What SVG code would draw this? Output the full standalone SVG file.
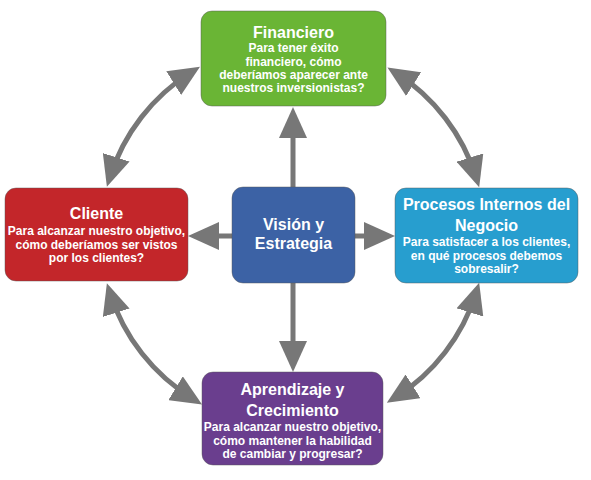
<svg xmlns="http://www.w3.org/2000/svg" width="591" height="480" viewBox="0 0 591 480">
<style>
.box{stroke:#555;stroke-opacity:0.45;stroke-width:1}
.t{font-family:"Liberation Sans",Arial,sans-serif;font-weight:bold;font-size:16px;fill:#fff;text-anchor:middle}
.b{font-family:"Liberation Sans",Arial,sans-serif;font-weight:bold;font-size:12px;fill:#fff;text-anchor:middle}
.c{fill:none;stroke:#777;stroke-width:5}
</style>
<defs>
<marker id="ah" markerUnits="userSpaceOnUse" markerWidth="32" markerHeight="28" refX="21" refY="14" orient="auto-start-reverse" viewBox="0 0 32 28">
<path d="M0,0 L31,14 L0,28 Z" fill="#777"/>
</marker>
</defs>
<rect width="591" height="480" fill="#fff"/>
<g id="connectors">
<path class="c" d="M293,187 L293,117" marker-end="url(#ah)"/>
<path class="c" d="M293,283 L293,362" marker-end="url(#ah)"/>
<path class="c" d="M232,236 L198,236" marker-end="url(#ah)"/>
<path class="c" d="M355,236 L385,236" marker-end="url(#ah)"/>
<path class="c" d="M109.9,177.3 A192,192 0 0 1 191.5,72" marker-start="url(#ah)" marker-end="url(#ah)"/>
<path class="c" d="M395.9,72.9 A192,192 0 0 1 476.2,177.6" marker-start="url(#ah)" marker-end="url(#ah)"/>
<path class="c" d="M476.2,292.4 A192,192 0 0 1 395.3,397.5" marker-start="url(#ah)" marker-end="url(#ah)"/>
<path class="c" d="M193.5,399.2 A192,192 0 0 1 109.9,292.7" marker-start="url(#ah)" marker-end="url(#ah)"/>
</g>
<g id="financiero">
<rect class="box" x="201" y="11" width="185" height="95" rx="11" fill="#6ab535"/>
<text class="t" x="293.5" y="38">Financiero</text>
<text class="b" x="293.5" y="52">Para tener éxito</text>
<text class="b" x="293.5" y="65.5">financiero, cómo</text>
<text class="b" x="293.5" y="79">deberíamos aparecer ante</text>
<text class="b" x="293.5" y="92">nuestros inversionistas?</text>
</g>
<g id="cliente">
<rect class="box" x="5" y="188" width="183" height="93" rx="11" fill="#c3262a"/>
<text class="t" x="96.5" y="219">Cliente</text>
<text class="b" x="96.5" y="235">Para alcanzar nuestro objetivo,</text>
<text class="b" x="96.5" y="248.5">cómo deberíamos ser vistos</text>
<text class="b" x="96.5" y="262">por los clientes?</text>
</g>
<g id="procesos">
<rect class="box" x="395" y="188" width="183" height="95" rx="11" fill="#279ecf"/>
<text class="t" x="486.5" y="210">Procesos Internos del</text>
<text class="t" x="486.5" y="231">Negocio</text>
<text class="b" x="486.5" y="246">Para satisfacer a los clientes,</text>
<text class="b" x="486.5" y="259.5">en qué procesos debemos</text>
<text class="b" x="486.5" y="273">sobresalir?</text>
</g>
<g id="vision">
<rect class="box" x="232" y="187" width="123" height="96" rx="11" fill="#3c62a5"/>
<text class="t" x="293.5" y="230">Visión y</text>
<text class="t" x="293.5" y="249">Estrategia</text>
</g>
<g id="aprendizaje">
<rect class="box" x="202" y="372" width="181" height="93" rx="11" fill="#6a3e8e"/>
<text class="t" x="292.5" y="395">Aprendizaje y</text>
<text class="t" x="292.5" y="416">Crecimiento</text>
<text class="b" x="292.5" y="431">Para alcanzar nuestro objetivo,</text>
<text class="b" x="292.5" y="444.5">cómo mantener la habilidad</text>
<text class="b" x="292.5" y="458">de cambiar y progresar?</text>
</g>
</svg>
